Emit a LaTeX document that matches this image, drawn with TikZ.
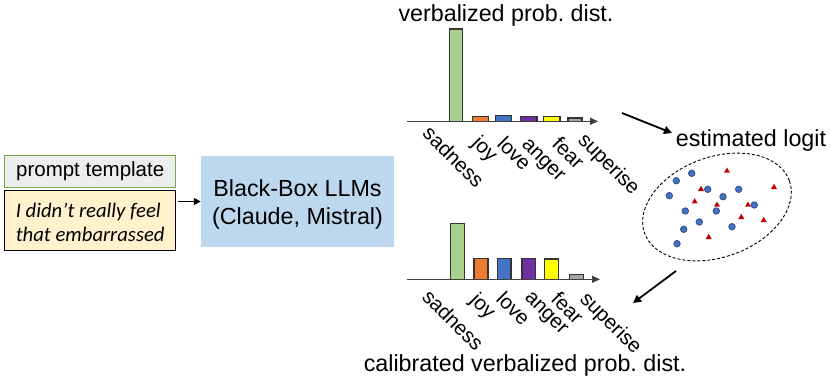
\documentclass[tikz,border=0pt]{standalone}
\usepackage{fontspec}
\setmainfont{Liberation Sans}
\newfontfamily\calibrifont{Carlito}
\usetikzlibrary{arrows.meta,shapes.geometric}
\definecolor{cgreen}{HTML}{A9D18E}
\definecolor{corange}{HTML}{ED7D31}
\definecolor{cblue}{HTML}{4472C4}
\definecolor{cpurple}{HTML}{7030A0}
\definecolor{cyellow}{HTML}{FFFF00}
\definecolor{cgray}{HTML}{A5A5A5}
\definecolor{llmblue}{HTML}{BDD7EE}
\definecolor{tmplgray}{HTML}{EDEDED}
\definecolor{tmplgreen}{HTML}{70AD47}
\definecolor{inyellow}{HTML}{FFF2CC}
\definecolor{cred}{HTML}{C00000}
\definecolor{cdkblue}{HTML}{2F528F}
\frenchspacing
\begin{document}
\begin{tikzpicture}[x=1pt,y=-1pt,
  bigfont/.style={font=\fontsize{23.3pt}{28pt}\selectfont},
  tmplbox/.style={draw=tmplgreen, fill=tmplgray, line width=1pt, minimum width=171pt, minimum height=32pt, inner sep=0pt, font=\fontsize{20.5pt}{24pt}\selectfont},
  inbox/.style={draw=black, fill=inyellow, line width=1pt, minimum width=171pt, minimum height=60pt, inner sep=0pt, align=left, font=\calibrifont\itshape\fontsize{20.7pt}{24pt}\selectfont},
  llmbox/.style={fill=llmblue, minimum width=193pt, minimum height=91.6pt, inner sep=0pt, align=center, bigfont},
  title/.style={anchor=base, inner sep=0pt, bigfont},
  barbox/.style={draw=black!80, line width=1.1pt},
  axisline/.style={draw=black!75, line width=1.2pt, -{Triangle[length=8pt,width=7pt]}},
  flow/.style={line width=1.8pt, -{Triangle[length=8pt,width=8pt]}},
  catlabel/.style={rotate=-45, anchor=north west, inner sep=0pt, text height=15.5pt, text depth=4pt, font=\fontsize{20.5pt}{24pt}\selectfont},
  cloud/.style={draw=black, ellipse, dash pattern=on 3pt off 2pt, line width=0.9pt, minimum width=154pt, minimum height=100pt, inner sep=0pt, rotate=20},
  dotb/.style={circle, fill=cblue, draw=cdkblue, line width=0.8pt, minimum size=6.5pt, inner sep=0pt},
  trir/.style={regular polygon, regular polygon sides=3, fill=cred, minimum size=7pt, inner sep=0pt}
]
\useasboundingbox (0,0) rectangle (831,382);

% left part
\node[tmplbox] (tmpl) at (90.2,171.7) {prompt template};
\node[inbox] (input) at (90.2,221) {\rule{0pt}{18pt}I didn’t really feel\\that embarrassed};
\node[llmbox] (llm) at (297.5,201.5) {\rule{0pt}{22pt}Black-Box LLMs\\(Claude, Mistral)};
\draw[line width=1.5pt, -{Triangle[length=7pt,width=7pt]}, shorten <=2pt] (input.east |- llm.west) -- (llm.west);

% titles
\node[title] (t1) at (506,21.7) {verbalized prob. dist.};
\node[title] (t2) at (525,371.7) {calibrated verbalized prob. dist.};
\node[title] (logit) at (751,146.7) {estimated logit};

% top chart
\draw[barbox, fill=cgreen] (449.3,121.3) rectangle (462.7,29);
\draw[barbox, fill=corange] (472.7,121.3) rectangle (488.7,116.7);
\draw[barbox, fill=cblue] (495.7,121.3) rectangle (511.7,115.7);
\draw[barbox, fill=cpurple] (520.3,121.3) rectangle (537,116.7);
\draw[barbox, fill=cyellow] (543.3,121.3) rectangle (560,116.7);
\draw[barbox, fill=cgray] (568,121.3) rectangle (582,118);
\coordinate (ax1s) at (407,121.3);
\coordinate (ax1e) at (598,121.3);
\draw[axisline] (ax1s) -- (ax1e);
\node[catlabel] (l1a) at (432.5,123.6) {sadness};
\node[catlabel] (l1b) at (482,133) {joy};
\node[catlabel] (l1c) at (507,134) {love};
\node[catlabel] (l1d) at (532,134) {anger};
\node[catlabel] (l1e) at (562,134) {fear};
\node[catlabel] (l1f) at (588,130) {superise};

% bottom chart
\draw[barbox, fill=cgreen] (450.7,279.3) rectangle (464.7,223.3);
\draw[barbox, fill=corange] (474,279.3) rectangle (488,258.3);
\draw[barbox, fill=cblue] (497.3,279.3) rectangle (511,258.3);
\draw[barbox, fill=cpurple] (522,279.3) rectangle (535.7,258.3);
\draw[barbox, fill=cyellow] (544.7,279.3) rectangle (558.7,259);
\draw[barbox, fill=cgray] (569.3,279.3) rectangle (583.3,274.3);
\coordinate (ax2s) at (407,279.3);
\coordinate (ax2e) at (600,279.3);
\draw[axisline] (ax2s) -- (ax2e);
\node[catlabel] (l2a) at (432,287) {sadness};
\node[catlabel] (l2b) at (480,290) {joy};
\node[catlabel] (l2c) at (506,289) {love};
\node[catlabel] (l2d) at (535,287) {anger};
\node[catlabel] (l2e) at (561,289) {fear};
\node[catlabel] (l2f) at (590,289) {superise};

% estimated logit cloud
\node[cloud] (cl) at (717,207) {};
\node[dotb] (b1) at (691.7,173.3) {};
\node[dotb] (b2) at (676.3,180.7) {};
\node[dotb] (b3) at (707.7,189.3) {};
\node[dotb] (b4) at (738.7,189.3) {};
\node[dotb] (b5) at (669.3,195.7) {};
\node[dotb] (b6) at (723,196.7) {};
\node[dotb] (b7) at (754.3,205) {};
\node[dotb] (b8) at (685.3,211) {};
\node[dotb] (b9) at (716.3,211) {};
\node[dotb] (b10) at (699.3,222) {};
\node[dotb] (b11) at (732,226.7) {};
\node[dotb] (b12) at (683.7,229.3) {};
\node[dotb] (b13) at (677,243.7) {};
\node[trir] (r1) at (727,171) {};
\node[trir] (r2) at (701,189.3) {};
\node[trir] (r3) at (774,187.3) {};
\node[trir] (r4) at (694.7,201.7) {};
\node[trir] (r5) at (717,205) {};
\node[trir] (r6) at (748,205) {};
\node[trir] (r7) at (741.3,217.3) {};
\node[trir] (r8) at (763.7,220.3) {};
\node[trir] (r9) at (708.7,237.3) {};

% arrows
\coordinate (a1s) at (622,113);
\coordinate (a1e) at (672,133);
\draw[flow] (a1s) -- (a1e);
\coordinate (a2s) at (676,271);
\coordinate (a2e) at (633,303);
\draw[flow] (a2s) -- (a2e);
\end{tikzpicture}
\end{document}
